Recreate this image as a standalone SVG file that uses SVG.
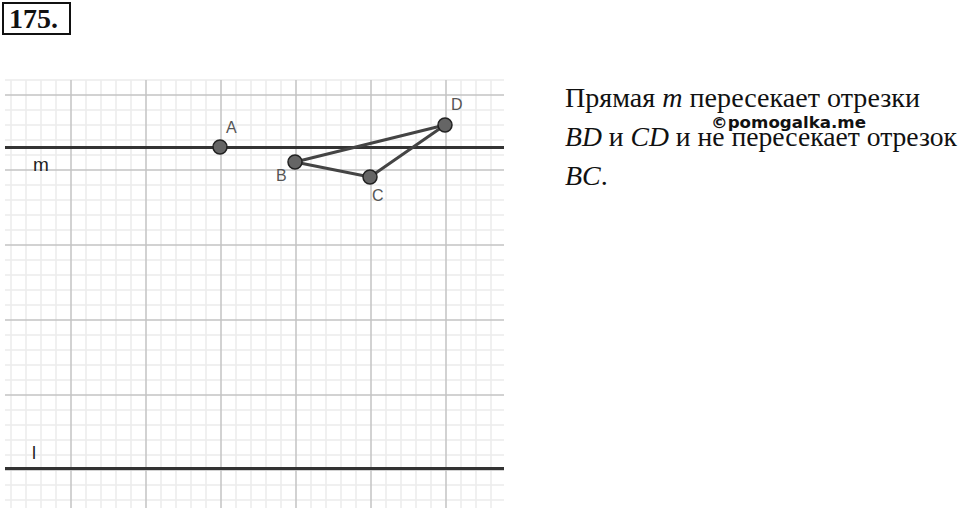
<svg xmlns="http://www.w3.org/2000/svg" width="960" height="508" viewBox="0 0 960 508">
<defs>
<style>
.minor{stroke:#ececec;stroke-width:1.5;fill:none}
.major{stroke:#c4c4c4;stroke-width:1.5;fill:none}
.line{stroke:#333;stroke-width:3;fill:none}
.seg{stroke:#444;stroke-width:3;fill:none;stroke-linecap:round}
.pt{fill:#656565;stroke:#222;stroke-width:1.5}
.lbl{font-family:"Liberation Sans",Arial,sans-serif;font-size:16px;fill:#555}
.txt{font-family:"Liberation Serif","Times New Roman",serif;font-size:28px;fill:#111}
.it{font-style:italic}
</style>
</defs>
<rect width="960" height="508" fill="#fff"/>
<g id="title">
<rect x="3" y="3" width="67" height="31" fill="none" stroke="#111" stroke-width="2"/>
<text x="9" y="28" font-family="Liberation Serif,serif" font-weight="bold" font-size="28" fill="#111">175.</text>
</g>
<g id="grid">
<path class="minor" d="M11 80V508M26 80V508M41 80V508M56 80V508M86 80V508M101 80V508M116 80V508M131 80V508M161 80V508M176 80V508M191 80V508M206 80V508M236 80V508M251 80V508M266 80V508M281 80V508M311 80V508M326 80V508M341 80V508M356 80V508M386 80V508M401 80V508M416 80V508M431 80V508M461 80V508M476 80V508M491 80V508"/>
<path class="minor" d="M5 80H504M5 110H504M5 125H504M5 140H504M5 155H504M5 185H504M5 200H504M5 215H504M5 230H504M5 260H504M5 275H504M5 290H504M5 305H504M5 335H504M5 350H504M5 365H504M5 380H504M5 410H504M5 425H504M5 440H504M5 455H504M5 485H504M5 500H504"/>
<path class="major" d="M71 80V508M146 80V508M221 80V508M296 80V508M371 80V508M446 80V508"/>
<path class="major" d="M5 95H504M5 170H504M5 245H504M5 320H504M5 395H504M5 470H504"/>
</g>
<g id="connectors">
<line id="m" class="line" x1="5" y1="147.5" x2="504" y2="147.5"/>
<line id="l" class="line" x1="5" y1="468.5" x2="504" y2="468.5"/>
<line class="seg" x1="295" y1="162" x2="445" y2="125"/>
<line class="seg" x1="445" y1="125" x2="370" y2="177"/>
<line class="seg" x1="370" y1="177" x2="295" y2="162"/>
</g>
<g id="line-labels">
<text x="33" y="171" font-family="Liberation Sans,Arial,sans-serif" font-size="19" fill="#222">m</text>
<text x="32" y="459" font-family="Liberation Sans,Arial,sans-serif" font-size="18" fill="#222">l</text>
</g>
<g id="A"><circle class="pt" cx="220" cy="147" r="7"/><text class="lbl" x="226" y="133">A</text></g>
<g id="B"><circle class="pt" cx="295" cy="162" r="7"/><text class="lbl" x="276" y="181">B</text></g>
<g id="C"><circle class="pt" cx="370" cy="177" r="7"/><text class="lbl" x="372" y="201">C</text></g>
<g id="D"><circle class="pt" cx="445" cy="125" r="7"/><text class="lbl" x="451" y="110">D</text></g>
<g id="statement">
<text class="txt" x="565" y="107" textLength="355" lengthAdjust="spacingAndGlyphs">Прямая <tspan class="it">m</tspan> пересекает отрезки</text>
<text class="txt" x="565" y="146" textLength="392" lengthAdjust="spacingAndGlyphs"><tspan class="it">BD</tspan> и <tspan class="it">CD</tspan> и не пересекает отрезок</text>
<text class="txt" x="565" y="185"><tspan class="it">BC</tspan>.</text>
</g>
<g id="watermark">
<text x="711" y="128" font-family="DejaVu Sans,sans-serif" font-weight="bold" font-size="15" fill="#111" textLength="155" lengthAdjust="spacingAndGlyphs">©pomogalka.me</text>
</g>
</svg>
